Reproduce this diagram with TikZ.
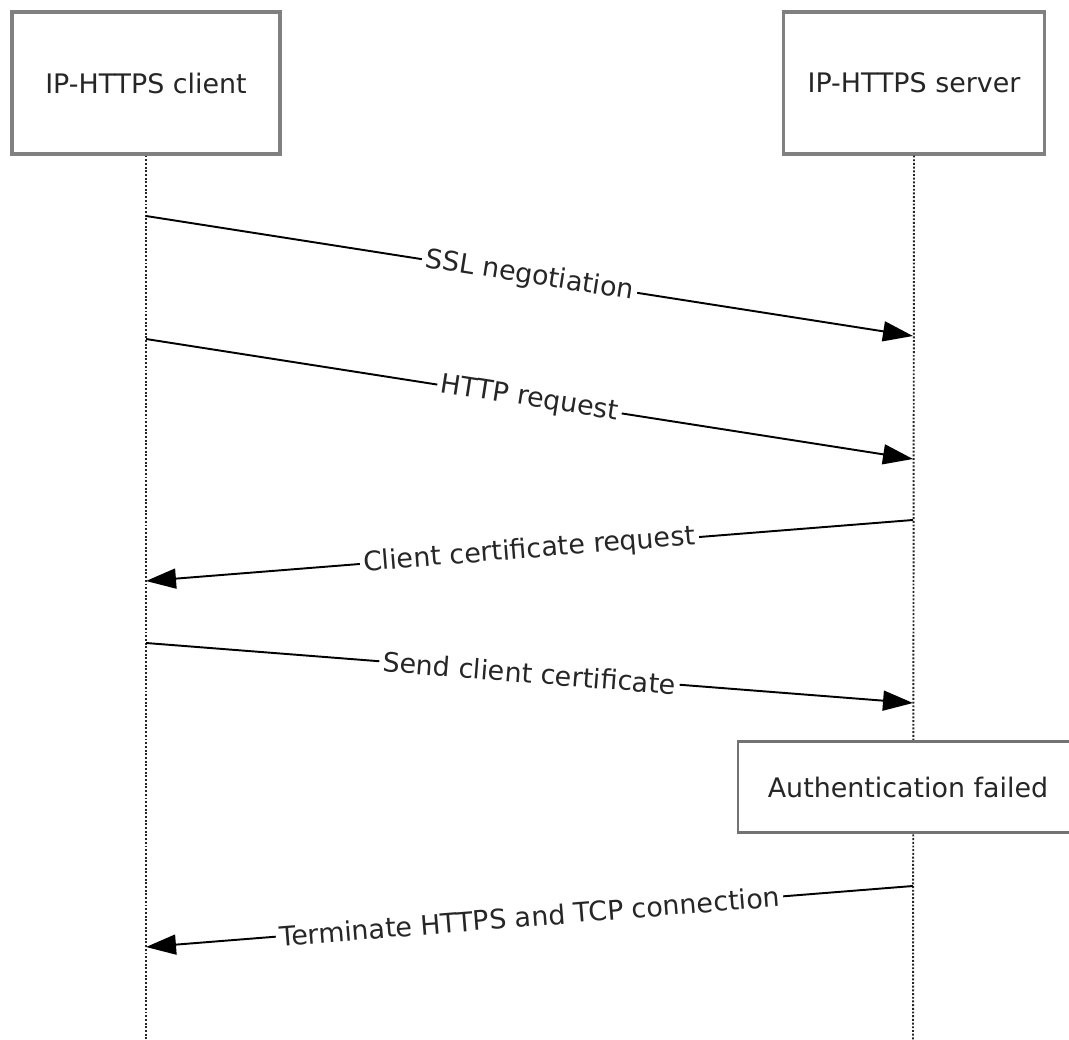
\documentclass[tikz,border=0pt]{standalone}
\usepackage{fontspec}
\setmainfont{DejaVu Sans}
\usetikzlibrary{arrows.meta}
\begin{document}
\begin{tikzpicture}[x=0.02cm,y=-0.02cm,
		font=\fontsize{15.3pt}{18pt}\selectfont,
		entity/.style={draw=black!50,line width=1.8pt,fill=white,minimum height=2.84cm,inner sep=0pt,text=black!85},
		notebox/.style={draw=black!55,line width=1.2pt,fill=white,minimum width=6.8cm,minimum height=1.82cm,inner sep=0pt,text=black!85},
		lifeline/.style={densely dotted,line width=1.1pt,black!85},
		msg/.style={line width=1.1pt,-{Triangle[length=0.6cm,width=0.4cm]}},
		msglabel/.style={midway,sloped,fill=white,inner sep=2pt,text=black!85}]
		\useasboundingbox (0,0) rectangle (1069,1040);

		% participants
		\node[entity,minimum width=5.36cm] (client) at (146,83) {IP-HTTPS client};
		\node[entity,minimum width=5.22cm] (server) at (914,83) {IP-HTTPS server};

		% lifelines
		\coordinate (clientend) at (146,1040);
		\coordinate (serverend) at (913,1040);
		\draw[lifeline] (client.south) -- (clientend);
		\draw[lifeline] (server.south) -- (serverend);

		% points on the lifelines
		\coordinate (c1) at (146,216);  \coordinate (s1) at (913,336);
		\coordinate (c2) at (146,339);  \coordinate (s2) at (913,459);
		\coordinate (s3) at (913,520);  \coordinate (c3) at (146,581);
		\coordinate (c4) at (146,643);  \coordinate (s4) at (913,703);
		\coordinate (s5) at (913,886);  \coordinate (c5) at (146,947);

		% messages
		\draw[msg] (c1) -- node[msglabel] {SSL negotiation} (s1);
		\draw[msg] (c2) -- node[msglabel] {HTTP request} (s2);
		\draw[msg] (s3) -- node[msglabel] {Client certificate request} (c3);
		\draw[msg] (c4) -- node[msglabel] {Send client certificate} (s4);

		% server side note
		\node[notebox] (authfail) at (908,787) {Authentication failed};

		\draw[msg] (s5) -- node[msglabel] {Terminate HTTPS and TCP connection} (c5);
	\end{tikzpicture}
\end{document}
